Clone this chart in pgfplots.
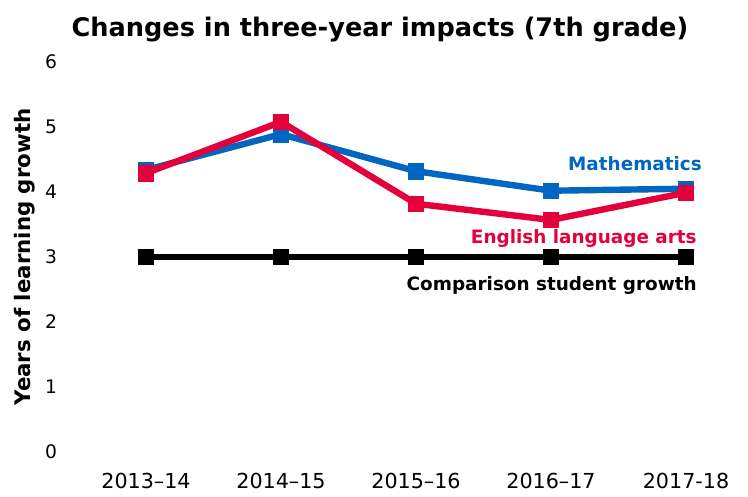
\documentclass[border=0pt]{standalone}
\usepackage{pgfplots}
\pgfplotsset{compat=1.18}
\usepackage{fontspec}
\setmainfont{DejaVu Sans}
\definecolor{mblue}{HTML}{0066C0}
\definecolor{ered}{HTML}{E4003B}
\begin{document}
\begin{tikzpicture}[x=0.75pt,y=0.75pt]
\begin{axis}[
  at={(69pt,33pt)}, anchor=south west,
  scale only axis, width=486pt, height=292.5pt,
  xmin=-0.4, xmax=4.4, ymin=0, ymax=6,
  axis line style={draw=none},
  major tick length=0pt, tick style={draw=none},
  xtick={0,1,2,3,4},
  xticklabels={2013--14,2014--15,2015--16,2016--17,2017-18},
  ytick={0,1,2,3,4,5,6},
  /pgf/number format/assume math mode=true,
  ticklabel style={inner sep=0pt},
  yticklabel style={anchor=east, font=\fontsize{14}{16}\selectfont},
  xticklabel style={anchor=north, font=\fontsize{15.5}{18}\selectfont},
  yticklabel shift=26pt,
  xticklabel shift=15.5pt,
  clip=false,
]
\addplot[mblue, line width=4.8pt, mark=square*, mark size=5.8pt, mark options={solid, line width=0.5pt}]
  coordinates {(0,4.34) (1,4.89) (2,4.32) (3,4.02) (4,4.05)};
\addplot[ered, line width=4.8pt, mark=square*, mark size=5.8pt, mark options={solid, line width=0.5pt}]
  coordinates {(0,4.29) (1,5.08) (2,3.82) (3,3.57) (4,3.99)};
\addplot[black, line width=4.8pt, mark=square*, mark size=5.6pt, mark options={solid, line width=0.5pt}]
  coordinates {(0,3) (1,3) (2,3) (3,3) (4,3)};
\node[anchor=base east, inner sep=0pt, text=mblue, font=\fontsize{13.8}{16}\selectfont\bfseries] at (axis cs:4.119,4.338) {Mathematics};
\node[anchor=base east, inner sep=0pt, text=ered, font=\fontsize{13.8}{16}\selectfont\bfseries] at (axis cs:4.081,3.215) {English language arts};
\node[anchor=base east, inner sep=0pt, text=black, font=\fontsize{13.8}{16}\selectfont\bfseries] at (axis cs:4.081,2.492) {Comparison student growth};
\node[anchor=base, inner sep=0pt, font=\fontsize{19.2}{22}\selectfont\bfseries] at (axis cs:1.733,6.4) {Changes in three-year impacts (7th grade)};
\node[rotate=90, anchor=center, inner sep=0pt, font=\fontsize{16}{18}\selectfont\bfseries] at (axis cs:-0.896,3.0) {Years of learning growth};
\end{axis}
\pgfresetboundingbox
\path (0,0) rectangle (748,496);
\end{tikzpicture}
\end{document}
